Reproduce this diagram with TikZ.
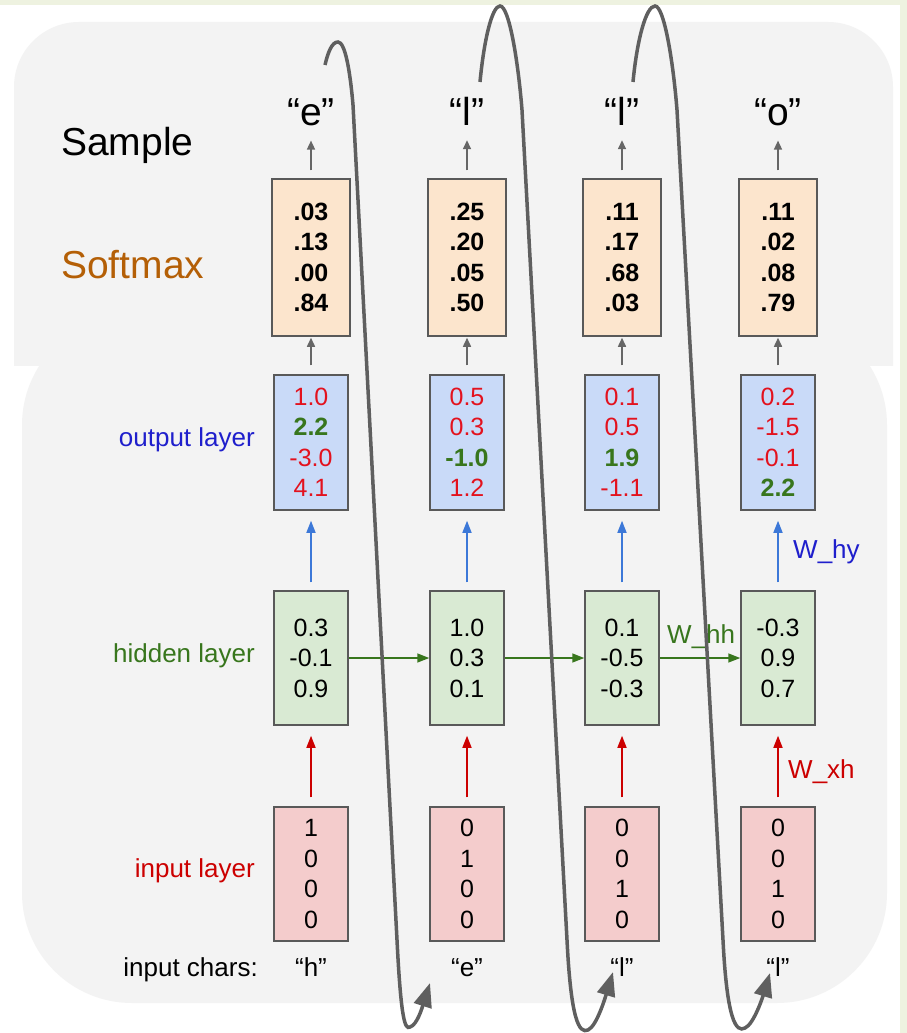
\documentclass[tikz,border=0pt]{standalone}
\usepackage{fontspec}
\setmainfont{Liberation Sans}
\usetikzlibrary{arrows.meta}
\definecolor{stripgreen}{HTML}{EEF2E0}
\definecolor{panelgray}{HTML}{F3F3F3}
\definecolor{boxedge}{HTML}{595959}
\definecolor{smfill}{HTML}{FCE5CD}
\definecolor{outfill}{HTML}{C9DAF8}
\definecolor{hidfill}{HTML}{D9EAD3}
\definecolor{infill}{HTML}{F4CCCC}
\definecolor{valred}{HTML}{E3121E}
\definecolor{valgreen}{HTML}{38761D}
\definecolor{labblue}{HTML}{1F1FCC}
\definecolor{labred}{HTML}{CC0000}
\definecolor{labbrown}{HTML}{B45F06}
\definecolor{arrblue}{HTML}{3C78D8}
\definecolor{arrgray}{HTML}{666666}
\definecolor{loopgray}{HTML}{5F5F5F}
\newcommand{\rv}[1]{\textcolor{valred}{#1}}
\newcommand{\gv}[1]{\textcolor{valgreen}{\textbf{#1}}}
\tikzset{
    vec/.style={draw=boxedge, line width=1.5pt, align=center, inner sep=0pt, minimum width=74pt, minimum height=134pt, font=\fontsize{25}{30.5}\selectfont},
    smvec/.style={style=vec, fill=smfill, minimum width=78pt, minimum height=157pt, font=\fontsize{25}{30.5}\selectfont\bfseries},
    outvec/.style={style=vec, fill=outfill, minimum height=135pt},
    hidvec/.style={style=vec, fill=hidfill},
    invec/.style={style=vec, fill=infill},
    lab/.style={inner sep=0pt, font=\fontsize{26}{30}\selectfont}, % layer names and weights
    big/.style={inner sep=0pt, font=\fontsize{39}{44}\selectfont},
    garr/.style={draw=arrgray, line width=1.5pt, -{Triangle[length=9pt, width=8pt]}},
    barr/.style={draw=arrblue, line width=1.5pt, -{Triangle[length=12pt, width=9pt]}},
    rarr/.style={draw=labred, line width=1.5pt, -{Triangle[length=12pt, width=9pt]}},
    harr/.style={draw=valgreen, line width=1.5pt, -{Triangle[length=12pt, width=9pt]}},
    feed/.style={draw=loopgray, line width=3.5pt, -{Triangle[length=24pt, width=18pt]}} % sampled char fed back in
}
\begin{document}
\begin{tikzpicture}[x=1pt, y=-1pt]
        \useasboundingbox (0,0) rectangle (907,1033);
        \fill[stripgreen] (0,0) rectangle (907,1033);
        \fill[white] (0,5) rectangle (900,1033);
        \fill[panelgray, rounded corners=110pt] (22,315) rectangle (887,1003);
        \begin{scope}
            \clip (0,0) rectangle (907,365);
            \fill[panelgray, rounded corners=65pt] (14,22) rectangle (893,600);
        \end{scope}

        % side labels
        \node[big, anchor=base west] (sample_lab) at (61,155) {Sample};
        \node[big, anchor=base west, text=labbrown] (softmax_lab) at (61,278) {Softmax};
        \node[lab, anchor=east, text=labblue] (output_lab) at (255,440) {output layer};
        \node[lab, anchor=east, text=valgreen] (hidden_lab) at (255,656) {hidden layer};
        \node[lab, anchor=east, text=labred] (input_lab) at (255,871) {input layer};
        \node[lab, anchor=base east] (chars_lab) at (258,976) {input chars:};

        % sampled chars
        \node[big, anchor=base] (smp1) at (311,125) {“e”};
        \node[big, anchor=base] (smp2) at (467,125) {“l”};
        \node[big, anchor=base] (smp3) at (622,125) {“l”};
        \node[big, anchor=base] (smp4) at (778,125) {“o”};

        % softmax
        \node[smvec] (sm1) at (311,257.5) {.03\\.13\\.00\\.84};
        \node[smvec] (sm2) at (467,257.5) {.25\\.20\\.05\\.50};
        \node[smvec] (sm3) at (622,257.5) {.11\\.17\\.68\\.03};
        \node[smvec] (sm4) at (778,257.5) {.11\\.02\\.08\\.79};

        % output layer
        \node[outvec] (out1) at (311,442.5) {\rv{1.0}\\\gv{2.2}\\\rv{-3.0}\\\rv{4.1}};
        \node[outvec] (out2) at (467,442.5) {\rv{0.5}\\\rv{0.3}\\\gv{-1.0}\\\rv{1.2}};
        \node[outvec] (out3) at (622,442.5) {\rv{0.1}\\\rv{0.5}\\\gv{1.9}\\\rv{-1.1}};
        \node[outvec] (out4) at (778,442.5) {\rv{0.2}\\\rv{-1.5}\\\rv{-0.1}\\\gv{2.2}};

        % hidden layer
        \node[hidvec] (hid1) at (311,658) {0.3\\-0.1\\0.9};
        \node[hidvec] (hid2) at (467,658) {1.0\\0.3\\0.1};
        \node[hidvec] (hid3) at (622,658) {0.1\\-0.5\\-0.3};
        \node[hidvec] (hid4) at (778,658) {-0.3\\0.9\\0.7};

        % input layer
        \node[invec] (in1) at (311,874) {1\\0\\0\\0};
        \node[invec] (in2) at (467,874) {0\\1\\0\\0};
        \node[invec] (in3) at (622,874) {0\\0\\1\\0};
        \node[invec] (in4) at (778,874) {0\\0\\1\\0};

        \node[lab, anchor=base] (ch1) at (311,976) {“h”};
        \node[lab, anchor=base] (ch2) at (467,976) {“e”};
        \node[lab, anchor=base] (ch3) at (622,976) {“l”};
        \node[lab, anchor=base] (ch4) at (778,976) {“l”};

        % weights
        \node[lab, anchor=west, text=labblue] (why) at (793,552) {W\_hy};
        \node[lab, anchor=west, text=valgreen] (whh) at (667,637) {W\_hh};
        \node[lab, anchor=west, text=labred] (wxh) at (788,772) {W\_xh};

        \draw[garr, shorten <=8pt, shorten >=15pt] (sm1.north) -- (smp1.south);
        \draw[garr, shorten <=8pt, shorten >=15pt] (sm2.north) -- (smp2.south);
        \draw[garr, shorten <=8pt, shorten >=15pt] (sm3.north) -- (smp3.south);
        \draw[garr, shorten <=8pt, shorten >=15pt] (sm4.north) -- (smp4.south);
        \draw[garr, shorten <=9pt, shorten >=1pt] (out1.north) -- (sm1.south);
        \draw[garr, shorten <=9pt, shorten >=1pt] (out2.north) -- (sm2.south);
        \draw[garr, shorten <=9pt, shorten >=1pt] (out3.north) -- (sm3.south);
        \draw[garr, shorten <=9pt, shorten >=1pt] (out4.north) -- (sm4.south);
        \draw[barr, shorten <=8pt, shorten >=10pt] (hid1.north) -- (out1.south);
        \draw[barr, shorten <=8pt, shorten >=10pt] (hid2.north) -- (out2.south);
        \draw[barr, shorten <=8pt, shorten >=10pt] (hid3.north) -- (out3.south);
        \draw[barr, shorten <=8pt, shorten >=10pt] (hid4.north) -- (out4.south);
        \draw[rarr, shorten <=9pt, shorten >=10pt] (in1.north) -- (hid1.south);
        \draw[rarr, shorten <=9pt, shorten >=10pt] (in2.north) -- (hid2.south);
        \draw[rarr, shorten <=9pt, shorten >=10pt] (in3.north) -- (hid3.south);
        \draw[rarr, shorten <=9pt, shorten >=10pt] (in4.north) -- (hid4.south);
        \draw[harr] (hid1.east) -- (hid2.west);
        \draw[harr] (hid2.east) -- (hid3.west);
        \draw[harr] (hid3.east) -- (hid4.west);

        % feedback loops
        \coordinate (loop1_start) at (325,65);
        \coordinate (loop1_top) at (338,42);
        \coordinate (loop1_bot) at (410,1027);
        \coordinate (loop1_end) at (430,983);
        \coordinate (loop2_start) at (480,82);
        \coordinate (loop2_top) at (500,6);
        \coordinate (loop2_bot) at (588,1030);
        \coordinate (loop2_end) at (613,972);
        \coordinate (loop3_start) at (633,82);
        \coordinate (loop3_top) at (655,6);
        \coordinate (loop3_bot) at (745,1028);
        \coordinate (loop3_end) at (770,973);
        \draw[feed] (loop1_start) .. controls (328,52) and (332,42) .. (loop1_top)
            .. controls (345,42) and (350,70) .. (353,105) -- (397,940)
            .. controls (401,1020) and (405,1030) .. (loop1_bot)
            .. controls (417,1025) and (422,1008) .. (loop1_end);
        \draw[feed] (loop2_start) .. controls (484,40) and (492,6) .. (loop2_top)
            .. controls (509,6) and (518,60) .. (522,110) -- (567,940)
            .. controls (571,1020) and (579,1034) .. (loop2_bot)
            .. controls (597,1026) and (606,995) .. (loop2_end);
        \draw[feed] (loop3_start) .. controls (637,40) and (646,6) .. (loop3_top)
            .. controls (664,6) and (673,60) .. (677,110) -- (723,940)
            .. controls (727,1020) and (736,1033) .. (loop3_bot)
            .. controls (754,1024) and (763,996) .. (loop3_end);
\end{tikzpicture}
\end{document}
